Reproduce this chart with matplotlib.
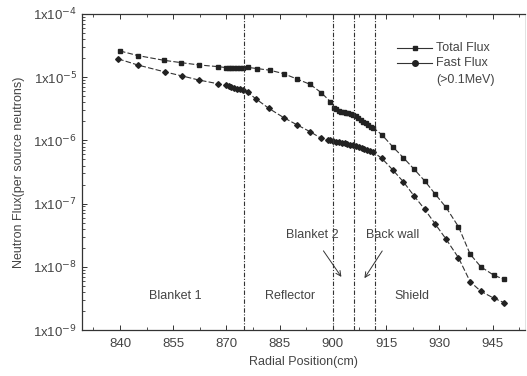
import matplotlib
matplotlib.use("Agg")
import matplotlib.pyplot as plt
from matplotlib.lines import Line2D
from matplotlib.ticker import FixedLocator, FuncFormatter, LogLocator, NullFormatter

plt.rcParams['font.family'] = ['Liberation Sans', 'DejaVu Sans']

# Total flux (squares)
total_x = [840, 845, 852.4, 857.2, 862.3, 867.6, 869.8, 870.6, 871.4, 872.2, 873.0, 873.8, 874.6,
           876, 878.6, 882.2, 886.1, 890, 893.6, 896.7, 899.3,
           900.2, 900.9, 901.6, 902.3, 903.0, 903.7, 904.4, 905.1, 905.8, 906.5, 907.2, 907.9,
           908.6, 909.3, 910.0, 910.7, 911.4,
           913.8, 916.9, 919.9, 922.9, 925.9, 928.9, 931.9, 935.4, 938.7, 941.7, 945.3, 948.3]
total_y = [2.6e-5, 2.2e-5, 1.85e-5, 1.7e-5, 1.56e-5, 1.47e-5, 1.42e-5, 1.41e-5, 1.40e-5, 1.40e-5, 1.40e-5, 1.40e-5, 1.40e-5,
           1.43e-5, 1.37e-5, 1.29e-5, 1.14e-5, 9.3e-6, 7.7e-6, 5.7e-6, 4.1e-6,
           3.3e-6, 3.1e-6, 2.95e-6, 2.85e-6, 2.8e-6, 2.75e-6, 2.7e-6, 2.65e-6, 2.55e-6, 2.4e-6, 2.25e-6, 2.1e-6,
           1.98e-6, 1.87e-6, 1.75e-6, 1.65e-6, 1.58e-6,
           1.23e-6, 7.9e-7, 5.3e-7, 3.5e-7, 2.28e-7, 1.4e-7, 8.7e-8, 4.3e-8, 1.58e-8, 1.0e-8, 7.4e-9, 6.3e-9]

# Fast flux (>0.1 MeV)
fast_x = [839.5, 845, 852.7, 857.4, 862.3, 867.5, 869.8, 870.6, 871.4, 872.2, 873.0, 873.8, 874.6,
          876, 878.4, 882, 886.1, 890, 893.5, 896.7,
          898.5, 899.3, 900.1, 900.9, 901.7, 902.5, 903.3, 904.1, 904.9, 905.7, 906.5, 907.3,
          908.1, 908.9, 909.7, 910.5, 911.3,
          913.8, 916.9, 919.9, 922.9, 925.9, 928.9, 931.9, 935.4, 938.7, 941.7, 945.3, 948.3]
fast_y = [1.95e-5, 1.56e-5, 1.21e-5, 1.05e-5, 9.0e-6, 7.9e-6, 7.4e-6, 7.2e-6, 7.0e-6, 6.8e-6, 6.6e-6, 6.4e-6, 6.2e-6,
          5.75e-6, 4.5e-6, 3.2e-6, 2.3e-6, 1.75e-6, 1.38e-6, 1.08e-6,
          1.02e-6, 1.0e-6, 9.8e-7, 9.6e-7, 9.4e-7, 9.2e-7, 9.0e-7, 8.8e-7, 8.6e-7, 8.4e-7, 8.2e-7, 7.9e-7,
          7.6e-7, 7.3e-7, 7.0e-7, 6.8e-7, 6.6e-7,
          5.2e-7, 3.4e-7, 2.2e-7, 1.32e-7, 8.1e-8, 4.7e-8, 2.74e-8, 1.39e-8, 5.8e-9, 4.1e-9, 3.2e-9, 2.7e-9]

boundaries = [875, 900, 906, 912]
xticks = [840, 855, 870, 885, 900, 915, 930, 945]
yticks = [1e-9, 1e-8, 1e-7, 1e-6, 1e-5, 1e-4]
ytick_exps = [-9, -8, -7, -6, -5, -4]

region_labels = ["Blanket 1", "Reflector", "Shield"]
region_x = [855.5, 888, 922.4]
region_y = [3.5e-9, 3.5e-9, 3.5e-9]

fig = plt.figure(figsize=(5.27, 3.76), dpi=100)
ax = fig.add_axes([0.1556, 0.1223, 0.841, 0.8405])

tc = '#444444'
ax.set_yscale('log')
ax.plot(total_x, total_y, linestyle=(0, (5, 2)), color='#333333', lw=0.8,
        marker='s', ms=3.4, mfc='#222222', mec='#222222')
ax.plot(fast_x, fast_y, linestyle=(0, (5, 2)), color='#333333', lw=0.8,
        marker='D', ms=2.9, mfc='#222222', mec='#222222')

for b in boundaries:
    ax.axvline(b, color='#333333', lw=0.8, linestyle=(0, (4, 1.5, 1, 1.5)))

ax.set_xlim(829.3, 954.2)
ax.set_ylim(1e-9, 1e-4)

ax.xaxis.set_major_locator(FixedLocator(xticks))
ax.xaxis.set_minor_locator(FixedLocator([x + 7.5 for x in [825] + xticks]))
ax.yaxis.set_major_locator(FixedLocator(yticks))
ax.yaxis.set_minor_locator(LogLocator(base=10, subs=[2, 3, 4, 5, 6, 7, 8, 9]))
ax.yaxis.set_minor_formatter(NullFormatter())
ax.yaxis.set_major_formatter(FuncFormatter(lambda v, p: r'1x10$^{%d}$' % ytick_exps[yticks.index(v)] if v in yticks else ''))

ax.tick_params(which='both', direction='in', top=True, right=False, colors='#333333',
               labelcolor=tc, labelsize=9.5)
ax.tick_params(which='major', length=3.5, width=0.7)
ax.tick_params(which='minor', length=2, width=0.6)
ax.tick_params(axis='x', pad=6)

for s in ['left', 'bottom', 'top']:
    ax.spines[s].set_color('#333333')
    ax.spines[s].set_linewidth(0.9)
ax.spines['right'].set_color('#dddddd')
ax.spines['right'].set_linewidth(0.6)

ax.set_xlabel('Radial Position(cm)', fontsize=9, color=tc, labelpad=4)
ax.set_ylabel('Neutron Flux(per source neutrons)', fontsize=9, color=tc, labelpad=6)

for lab, x, y in zip(region_labels, region_x, region_y):
    ax.text(x, y, lab, fontsize=9, color=tc, ha='center', va='center')

ax.annotate('Blanket 2', xy=(902.4, 10**-8.16), xytext=(894.3, 10**-7.5),
            fontsize=9, color=tc, ha='center', va='center',
            arrowprops=dict(arrowstyle='->', color='#333333', lw=0.7, shrinkA=6, shrinkB=0))
ax.annotate('Back wall', xy=(908.9, 10**-8.18), xytext=(916.8, 10**-7.5),
            fontsize=9, color=tc, ha='center', va='center',
            arrowprops=dict(arrowstyle='->', color='#333333', lw=0.7, shrinkA=6, shrinkB=0))

# manual legend
legend_labels = ['Total Flux', 'Fast Flux', '(>0.1MeV)']
for yy, mk, ms in [(0.892, 's', 3.4), (0.845, 'o', 4)]:
    ax.add_line(Line2D([0.711, 0.790], [yy, yy], transform=ax.transAxes, color='#333333', lw=0.8))
    ax.add_line(Line2D([0.752], [yy], transform=ax.transAxes, marker=mk, ms=ms,
                       mfc='#222222', mec='#222222', linestyle='none'))
for yy, lab in zip([0.892, 0.845, 0.791], legend_labels):
    ax.text(0.799, yy, lab, transform=ax.transAxes, fontsize=9, color=tc, ha='left', va='center')

fig.savefig('out.png', dpi=100)
